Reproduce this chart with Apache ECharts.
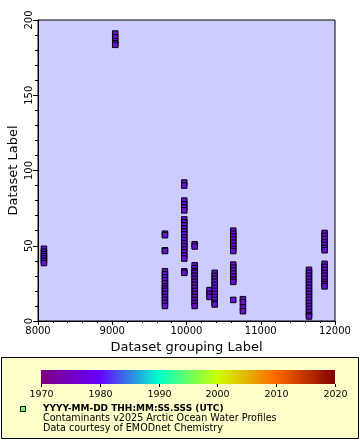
<!DOCTYPE html>
<html><head><meta charset="utf-8">
<script src="https://cdn.jsdelivr.net/npm/echarts@6/dist/echarts.min.js"></script>
<style>html,body{margin:0;padding:0;background:#fff}#c{width:360px;height:440px}</style>
</head><body><div id="c"></div>
<script>
// x group positions (Dataset grouping Label)
var groupX = [8080, 9040, 9710, 9970, 10110, 10310, 10380, 10630, 10760, 11650, 11860];
// y values (Dataset Label) per group
var groupY = [
  [48, 46, 44.5, 43, 41.5, 40, 38.5],
  [191, 188.5, 186, 184.5, 183.5],
  [58, 57, 47, 46.5, 33, 31, 29, 27, 25, 23, 21.5, 20, 18, 16, 14, 12, 10],
  [92, 90, 80, 77.5, 75.5, 73.5, 67.5, 65.5, 63.5, 61.5, 59.5, 57.5, 55.5, 53.5, 51.5, 49.5, 47.5, 45.5, 43.5, 41.5, 33, 32],
  [51, 49.5, 37, 35, 33, 32, 30, 28, 26, 24, 22, 20, 18, 16, 14, 12, 10],
  [20.5, 18, 16],
  [32, 30, 28, 26, 24, 22, 20, 18, 16, 14, 12, 11],
  [60, 58, 56, 54, 52, 50, 48, 46.5, 37.5, 35.5, 33.5, 31.5, 29.5, 27.5, 26, 14],
  [14.5, 12.5, 9, 6.5],
  [34, 32, 30, 28, 26, 24, 22, 20, 18, 16, 14, 12, 10, 8, 6, 4, 3],
  [58.5, 56.5, 54.5, 52.5, 50.5, 48.5, 47, 38, 36, 34, 32, 30, 28, 26, 24.5, 23]
];
var xTicks = [8000, 9000, 10000, 11000, 12000];
var yTicks = [0, 50, 100, 150, 200];
var colorbarLabels = ['1970', '1980', '1990', '2000', '2010', '2020'];
var legendLines = ['YYYY-MM-DD THH:MM:SS.SSS (UTC)', 'Contaminants v2025 Arctic Ocean Water Profiles', 'Data courtesy of EMODnet Chemistry'];

var pts = [];
groupX.forEach(function (x, i) { groupY[i].forEach(function (y) { pts.push([x, y]); }); });

var FONT = 'DejaVu Sans';
var chart = echarts.init(document.getElementById('c'), null, {renderer: 'canvas'});

var cbL = 41, cbR = 335, cbT = 370, cbB = 384;
var graphics = [
  {type: 'rect', shape: {x: 1.5, y: 357.5, width: 357, height: 81}, style: {fill: '#ffffcc', stroke: '#000', lineWidth: 1}, z: 0},
  {type: 'rect', shape: {x: cbL, y: cbT, width: cbR - cbL, height: cbB - cbT},
   style: {fill: new echarts.graphic.LinearGradient(0, 0, 1, 0, [
     {offset: 0, color: '#800080'}, {offset: 0.2, color: '#6600ff'}, {offset: 0.4, color: '#00ffcc'},
     {offset: 0.5, color: '#66ff66'}, {offset: 0.6, color: '#ccff00'}, {offset: 0.8, color: '#ff6600'}, {offset: 1, color: '#800000'}])}, z: 1}
];
colorbarLabels.forEach(function (t, i) {
  var x = Math.round(cbL + (cbR - cbL) * i / (colorbarLabels.length - 1)) + 0.5;
  graphics.push({type: 'line', shape: {x1: x, y1: cbB, x2: x, y2: cbB + 3}, style: {stroke: '#000', lineWidth: 1}, z: 2});
  graphics.push({type: 'text', x: x, y: cbB + 5.5, style: {text: t, fontFamily: FONT, fontSize: 9.5, fill: '#000', align: 'center', verticalAlign: 'top'}, z: 2});
});
graphics.push({type: 'rect', shape: {x: 20.5, y: 406.5, width: 5, height: 5}, style: {fill: '#66ff66', stroke: '#000', lineWidth: 1}, z: 2});
legendLines.forEach(function (t, i) {
  graphics.push({type: 'text', x: 43, y: 404 + i * 9.5, style: {text: t, fontFamily: FONT, fontSize: i === 0 ? 9 : 9.6, fontWeight: i === 0 ? 'bold' : 'normal', fill: '#000', align: 'left', verticalAlign: 'top'}, z: 2});
});

chart.setOption({
  animation: false,
  backgroundColor: '#fff',
  grid: {left: 38, top: 20, right: 25, bottom: 119, containLabel: false, outerBoundsMode: 'none', show: true, backgroundColor: '#ccccff', borderColor: '#000', borderWidth: 1},
  xAxis: {
    type: 'value', min: xTicks[0], max: xTicks[xTicks.length - 1], interval: 1000,
    name: 'Dataset grouping Label', nameLocation: 'middle', nameGap: 20, nameMoveOverlap: false,
    nameTextStyle: {fontFamily: FONT, fontSize: 13, color: '#000'},
    axisLine: {lineStyle: {color: '#000', width: 1}},
    axisTick: {show: true, length: 4, lineStyle: {color: '#000'}},
    minorTick: {show: true, splitNumber: 5, length: 2, lineStyle: {color: '#000'}},
    splitLine: {show: false},
    axisLabel: {fontFamily: FONT, fontSize: 10, color: '#000', margin: 5, formatter: function (v) { return String(v); }}
  },
  yAxis: {
    type: 'value', min: yTicks[0], max: yTicks[yTicks.length - 1], interval: 50,
    name: 'Dataset Label', nameLocation: 'middle', nameGap: 18, nameRotate: 90, nameMoveOverlap: false,
    nameTextStyle: {fontFamily: FONT, fontSize: 13, color: '#000'},
    axisLine: {show: true, lineStyle: {color: '#000', width: 1}},
    axisTick: {show: true, length: 5, lineStyle: {color: '#000'}},
    minorTick: {show: true, splitNumber: 5, length: 3, lineStyle: {color: '#000'}},
    splitLine: {show: false},
    axisLabel: {fontFamily: FONT, fontSize: 10, color: '#000', rotate: 90, margin: 4, formatter: function (v) { return String(v); }}
  },
  series: [{
    type: 'scatter', data: pts, symbol: 'rect', symbolSize: 5.5,
    itemStyle: {color: '#6610d8', borderColor: '#000', borderWidth: 1, opacity: 1}
  }],
  graphic: graphics
});
</script></body></html>
